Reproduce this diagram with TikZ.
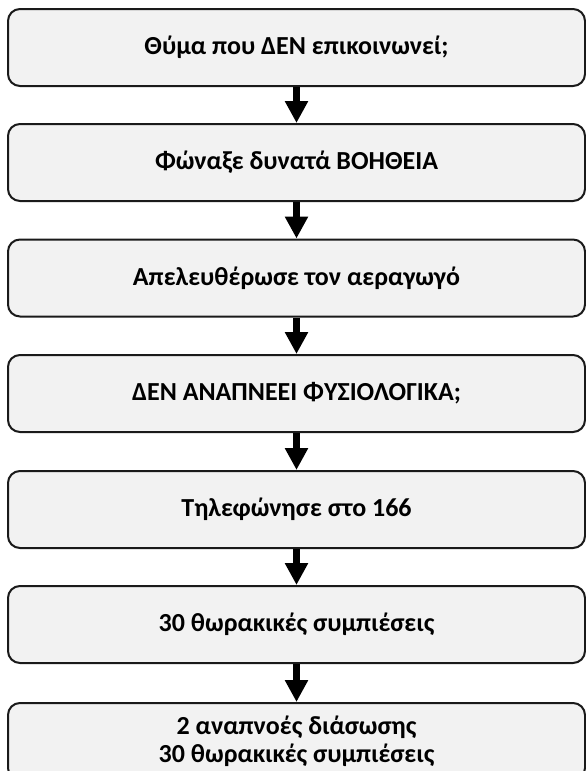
\documentclass[tikz,border=0pt]{standalone}
\usepackage{fontspec}
\setmainfont{Carlito}
\usetikzlibrary{arrows.meta}
\definecolor{boxfill}{HTML}{F2F2F2}
\definecolor{boxline}{HTML}{1A1A1A}
\tikzset{
  stepbox/.style={draw=boxline, line width=2pt, fill=boxfill, rounded corners=12pt,
    minimum width=577pt, minimum height=77pt, inner sep=0pt,
    font=\fontsize{26}{27.5}\selectfont\bfseries, align=center},
  arr/.style={line width=6.5pt, black, -{Triangle[width=22pt,length=22pt]}}
}
\begin{document}
\begin{tikzpicture}[x=1pt,y=-1pt]
\useasboundingbox (0,0) rectangle (586,771);
\clip (0,0) rectangle (586,771);
\node[stepbox] (b1) at (296.5,47.5) {Θύμα που ΔΕΝ επικοινωνεί;};
\node[stepbox] (b2) at (296.5,162.5) {Φώναξε δυνατά ΒΟΗΘΕΙΑ};
\node[stepbox] (b3) at (296.5,278) {Απελευθέρωσε τον αεραγωγό};
\node[stepbox] (b4) at (296.5,393.5) {ΔΕΝ ΑΝΑΠΝΕΕΙ ΦΥΣΙΟΛΟΓΙΚΑ;};
\node[stepbox] (b5) at (296.5,509.5) {Τηλεφώνησε στο 166};
\node[stepbox] (b6) at (296.5,624.5) {30 θωρακικές συμπιέσεις};
\node[stepbox, anchor=north] (b7) at (296.5,702) {2 αναπνοές διάσωσης\\30 θωρακικές συμπιέσεις};
\draw[arr] (b1.south) -- (b2.north);
\draw[arr] (b2.south) -- (b3.north);
\draw[arr] (b3.south) -- (b4.north);
\draw[arr] (b4.south) -- (b5.north);
\draw[arr] (b5.south) -- (b6.north);
\draw[arr] (b6.south) -- (b7.north);
\end{tikzpicture}
\end{document}
